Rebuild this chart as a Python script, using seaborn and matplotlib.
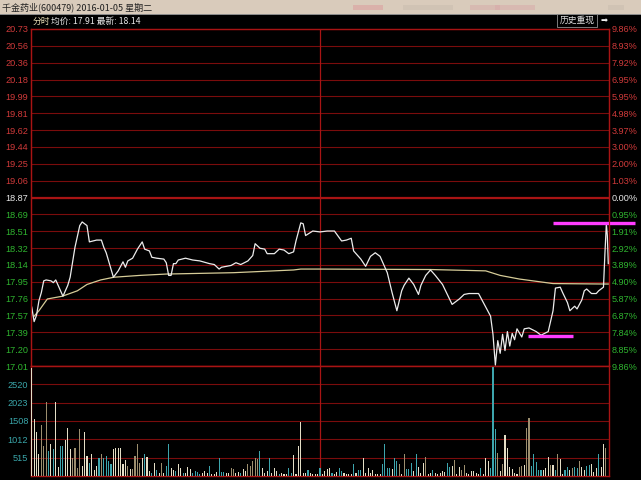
import matplotlib
matplotlib.use("Agg")
import matplotlib.pyplot as plt
from matplotlib.patches import Rectangle
import numpy as np
import pandas as pd
import seaborn as sns

plt.rcParams['font.family'] = ['Liberation Sans', 'Noto Sans CJK SC', 'DejaVu Sans']

# ---------------- data ----------------
title_text = "千金药业(600479) 2016-01-05 星期二"
info_label = "分时"
info_text = "均价: 17.91 最新: 18.14"
button_text = "历史重现"

price_min = [0, 1, 2, 3, 4, 5, 6, 8, 9, 10, 11, 13, 15, 16, 18, 20, 21, 23, 24, 27, 29, 30, 31,
             34, 36, 38, 39, 40, 42, 44, 46, 47, 49, 50, 52, 55, 56, 57, 58, 59, 60, 61, 64, 67,
             70, 74, 76, 78, 79, 81, 83, 85, 87, 90, 92, 93, 95, 97, 98, 101, 103, 105, 107, 109,
             110, 112, 113, 114, 117, 120, 123, 126, 129, 131, 133, 134, 137, 139, 141, 143, 145,
             148, 150, 152, 154, 155, 157, 159, 161, 162, 164, 166, 168, 171, 173, 175, 178, 180,
             182, 186, 187, 189, 191, 192, 193, 194, 195, 196, 197, 198, 199, 200, 201, 202, 204,
             205, 207, 210, 212, 215, 217, 218, 220, 221, 223, 224, 226, 227, 229, 230, 231, 233,
             235, 236, 238, 238.6, 239.2, 239.6, 240]
price_val = [17.66, 17.50, 17.57, 17.73, 17.82, 17.95, 17.96, 17.95, 17.93, 17.96, 17.90, 17.78,
             17.90, 17.99, 18.32, 18.56, 18.60, 18.56, 18.38, 18.40, 18.40, 18.32, 18.26, 17.99,
             18.06, 18.16, 18.10, 18.17, 18.20, 18.30, 18.38, 18.30, 18.28, 18.21, 18.20, 18.19,
             18.15, 18.01, 18.01, 18.14, 18.14, 18.18, 18.20, 18.18, 18.17, 18.14, 18.13, 18.08,
             18.10, 18.11, 18.12, 18.15, 18.13, 18.17, 18.23, 18.36, 18.31, 18.30, 18.25, 18.25,
             18.30, 18.29, 18.25, 18.27, 18.39, 18.59, 18.58, 18.45, 18.50, 18.49, 18.50, 18.50,
             18.39, 18.40, 18.42, 18.28, 18.19, 18.11, 18.22, 18.26, 18.22, 18.04, 17.82, 17.62,
             17.84, 17.90, 17.98, 17.91, 17.80, 17.90, 18.01, 18.07, 18.01, 17.91, 17.80, 17.69,
             17.75, 17.80, 17.81, 17.81, 17.76, 17.66, 17.56, 17.36, 17.02, 17.29, 17.15, 17.36,
             17.18, 17.39, 17.23, 17.37, 17.30, 17.42, 17.33, 17.42, 17.43, 17.39, 17.35, 17.39,
             17.62, 17.87, 17.88, 17.82, 17.71, 17.62, 17.67, 17.64, 17.74, 17.84, 17.86, 17.81,
             17.81, 17.84, 17.88, 18.25, 18.58, 18.45, 18.14]

avg_min = [1, 3, 6.5, 12.7, 19, 23, 28.7, 34.2, 45, 56, 84, 109, 112, 120, 166, 189, 195, 203,
           217, 238, 240]
avg_val = [17.56, 17.62, 17.75, 17.78, 17.84, 17.91, 17.96, 17.99, 18.01, 18.025, 18.04, 18.07,
           18.08, 18.08, 18.075, 18.06, 18.01, 17.97, 17.92, 17.915, 17.915]

volume = [2965, 1560, 1220, 600, 1395, 830, 2020, 690, 870, 735,
          2045, 250, 830, 830, 990, 1330, 750, 505, 760, 230,
          1285, 275, 1195, 550, 365, 600, 155, 275, 485, 615,
          505, 550, 415, 320, 735, 780, 760, 760, 320, 430,
          275, 185, 200, 550, 890, 365, 505, 615, 530, 140,
          90, 365, 155, 90, 365, 90, 275, 890, 210, 155,
          140, 320, 210, 90, 90, 250, 185, 90, 140, 120,
          65, 90, 140, 90, 275, 65, 45, 120, 485, 120,
          110, 90, 90, 230, 185, 90, 120, 90, 185, 140,
          320, 275, 415, 505, 460, 690, 210, 90, 140, 485,
          90, 230, 140, 45, 90, 45, 65, 210, 90, 580,
          45, 830, 1490, 90, 90, 155, 90, 65, 65, 45,
          210, 65, 140, 185, 210, 90, 45, 120, 210, 140,
          90, 45, 45, 65, 320, 90, 155, 155, 485, 90,
          230, 90, 155, 45, 65, 65, 320, 870, 210, 210,
          185, 505, 415, 340, 65, 600, 185, 185, 365, 140,
          615, 250, 90, 365, 525, 45, 90, 155, 90, 65,
          90, 140, 120, 365, 250, 275, 430, 65, 250, 155,
          300, 90, 65, 140, 140, 90, 65, 230, 65, 485,
          415, 210, 3000, 1285, 640, 140, 320, 1130, 760, 250,
          185, 90, 65, 250, 275, 300, 1330, 1590, 275, 615,
          395, 155, 155, 155, 210, 525, 300, 300, 155, 615,
          460, 45, 155, 250, 155, 210, 250, 210, 415, 250,
          155, 275, 300, 320, 120, 210, 615, 250, 870, 760]
vol_kind = list(
    "wwwwtttcwc" "wwccwwwttt" "twwwcwwwct" "ccccwwwwww"
    "twttttwcww" "cwcwtwccww" "cwwcwwwccc" "cwwwcwwwcc"
    "cwwttwwcww" "tttttcwwwc" "wwwcwwwccw" "wwwwwcwwww"
    "cwwwwcwwcc" "wwwwcwccww" "wwwwwwcccc" "wcctwtcccw"
    "cwwwtwwcww" "wwwccwtwwt" "twwwwwwcww" "wccctwtwww"
    "wwwttwttcc" "cccwwwtwct" "wwccwtcctw" "wccwwwcwwt")
vol_minute = list(range(240))

left_labels = ["20.73", "20.56", "20.36", "20.18", "19.99", "19.81", "19.62", "19.44", "19.25",
               "19.06", "18.87", "18.69", "18.51", "18.32", "18.14", "17.95", "17.76", "17.57",
               "17.39", "17.20", "17.01"]
right_labels = ["9.86%", "8.93%", "7.92%", "6.95%", "5.95%", "4.98%", "3.97%", "3.00%", "2.00%",
                "1.03%", "0.00%", "0.95%", "1.91%", "2.92%", "3.89%", "4.90%", "5.87%", "6.87%",
                "7.84%", "8.85%", "9.86%"]
vol_labels = ["515", "1012", "1508", "2023", "2520"]

mark_level = [18.585, 17.342]
mark_start = [216.8, 206.4]
mark_end = [251.0, 225.2]

# ---------------- styling ----------------
BG = "black"
GRID = "#7a0c0c"
BORDER = "#a81414"
RED_T = "#d03a3a"
GREEN_T = "#2fb42f"
WHITE_T = "#e8e8e8"
CYAN_T = "#3aa6aa"
bar_palette = {"w": "#e4dec6", "c": "#3da5ad", "t": "#9c8e6e"}
CJK = ["Noto Sans CJK SC", "DejaVu Sans"]

fig = plt.figure(figsize=(6.41, 4.80), dpi=100, facecolor=BG)
W, H = 641.0, 480.0
x0, x1 = 31, 609
ax = fig.add_axes([x0 / W, 1 - 366 / H, (x1 - x0) / W, (366 - 29) / H])
axv = fig.add_axes([x0 / W, 1 - 476 / H, (x1 - x0) / W, (476 - 366) / H])
for a in (ax, axv):
    a.set_facecolor(BG)
    for s in a.spines.values():
        s.set_color(BORDER)
        s.set_linewidth(1.0)

# title bar
fig.patches.append(Rectangle((0, 1 - 14 / H), 1, 14 / H, transform=fig.transFigure,
                             facecolor="#d9cbbb", edgecolor="none", zorder=0))
fig.patches.append(Rectangle((0, 1 - 15 / H), 1, 1.2 / H, transform=fig.transFigure,
                             facecolor="#8a8a8a", edgecolor="none", zorder=0))
for bx, bw, bc, al in [(353, 30, "#dc9c9c", 0.55), (403, 50, "#c9bcae", 0.5),
                       (470, 30, "#d6aaa8", 0.5), (495, 40, "#d8a8a8", 0.5),
                       (608, 16, "#c9bcae", 0.5)]:
    fig.patches.append(Rectangle((bx / W, 1 - 10 / H), bw / W, 5 / H,
                                 transform=fig.transFigure, facecolor=bc, edgecolor="none",
                                 alpha=al, zorder=0))
fig.text(2 / W, 1 - 7.5 / H, title_text, fontsize=6.5, color="#202020", va="center", ha="left",
         family=CJK)
fig.text(33 / W, 1 - 21 / H, info_label, fontsize=6.3, color="#e6dcb4", va="center", ha="left",
         family=CJK)
fig.text(51 / W, 1 - 21 / H, info_text, fontsize=6.3, color="#e8e8e8", va="center",
         ha="left", family=CJK)
# button
fig.patches.append(Rectangle((557 / W, 1 - 27 / H), 40 / W, 13 / H, transform=fig.transFigure,
                             facecolor=BG, edgecolor="#909090", linewidth=0.6))
fig.text(577 / W, 1 - 20.5 / H, button_text, fontsize=6.3, color="#e0e0e0", va="center",
         ha="center", family=CJK)
fig.text(604 / W, 1 - 20.5 / H, "➡", fontsize=6, color="#f0f0f0", va="center", ha="center",
         family=["DejaVu Sans"])

# ---------------- price panel ----------------
ylo, yhi = 17.01, 20.73
ticks = np.linspace(ylo, yhi, 21)
ax.set_ylim(ylo, yhi)
ax.set_xlim(-0.3, 240.3)
for t in ticks[1:-1]:
    ax.axhline(t, color=GRID, lw=0.8, zorder=1)
ax.axhline(ticks[10], color=BORDER, lw=1.6, zorder=1)
ax.axvline(120, color=BORDER, lw=0.9, zorder=1)

df_p = pd.DataFrame({"m": price_min, "p": price_val})
df_a = pd.DataFrame({"m": avg_min, "p": avg_val})
sns.lineplot(data=df_a, x="m", y="p", ax=ax, color="#d6cc98", lw=0.9, zorder=3,
             estimator=None, sort=False)
sns.lineplot(data=df_p, x="m", y="p", ax=ax, color="#ececec", lw=0.9, zorder=4,
             estimator=None, sort=False)
ax.hlines(mark_level, mark_start, mark_end, color="#ff3cff", lw=2.4, zorder=5, clip_on=False)

ax.set_yticks(ticks[::-1])
ax.set_yticklabels(left_labels)
ax.set_xticks([])
ax.set_xlabel("")
ax.set_ylabel("")
ax.tick_params(axis="y", length=0, pad=2, labelsize=6.6)
for i, lbl in enumerate(ax.get_yticklabels()):
    lbl.set_color(RED_T if i < 10 else (WHITE_T if i == 10 else GREEN_T))

ax2 = ax.twinx()
ax2.set_ylim(ylo, yhi)
ax2.set_yticks(ticks[::-1])
ax2.set_yticklabels(right_labels)
ax2.tick_params(axis="y", length=0, pad=2, labelsize=6.6)
for s in ax2.spines.values():
    s.set_color(BORDER)
for i, lbl in enumerate(ax2.get_yticklabels()):
    lbl.set_color(RED_T if i < 10 else (WHITE_T if i == 10 else GREEN_T))

# ---------------- volume panel ----------------
vmax = 3020
vt = [vmax * k / 6 for k in range(1, 6)]
axv.set_ylim(0, vmax)
for t in vt:
    axv.axhline(t, color=GRID, lw=0.8, zorder=1)
axv.axvline(120, color=BORDER, lw=0.9, zorder=1)
df_v = pd.DataFrame({"m": vol_minute, "v": volume, "k": vol_kind})
sns.barplot(data=df_v, x="m", y="v", hue="k", palette=bar_palette, ax=axv, native_scale=True,
            dodge=False, width=0.45, errorbar=None, saturation=1, legend=False, linewidth=0,
            zorder=3)
axv.set_xlim(-0.3, 240.3)
axv.set_yticks(vt)
axv.set_yticklabels(vol_labels)
axv.set_xticks([])
axv.set_xlabel("")
axv.set_ylabel("")
axv.tick_params(axis="y", length=0, pad=2, labelsize=6.6, colors=CYAN_T)

fig.savefig("out.png", dpi=100, facecolor=BG)
